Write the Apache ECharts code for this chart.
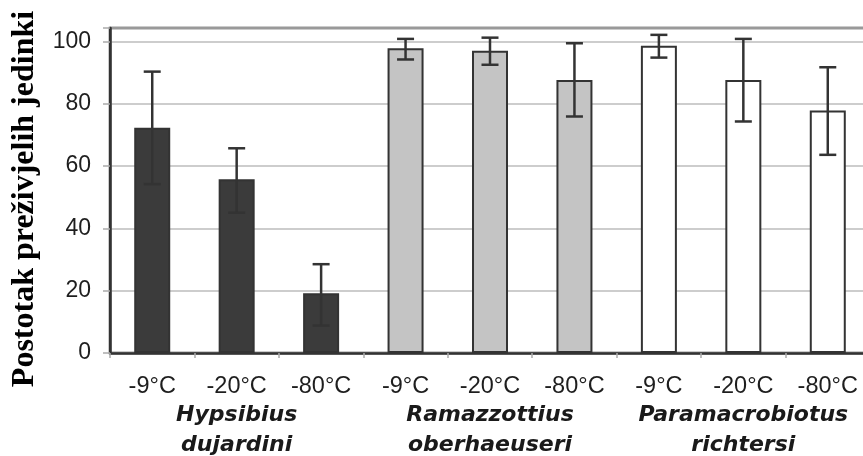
<!DOCTYPE html>
<html>
<head>
<meta charset="utf-8">
<script src="https://cdn.jsdelivr.net/npm/echarts@6/dist/echarts.min.js"></script>
<style>
html,body{margin:0;padding:0;background:#fff;}
#c{width:863px;height:456px;}
</style>
</head>
<body>
<div id="c"></div>
<script>
// ---- data ----
var categories = ['-9°C', '-20°C', '-80°C', '-9°C', '-20°C', '-80°C', '-9°C', '-20°C', '-80°C'];
var species = ['Hypsibius\ndujardini', 'Ramazzottius\noberhaeuseri', 'Paramacrobiotus\nrichtersi'];
var means = [72.3, 55.8, 19.2, 97.8, 97.0, 87.6, 98.6, 87.6, 77.8];
var errLow = [54.2, 45.0, 8.8, 94.2, 92.5, 75.9, 94.8, 74.3, 63.6];
var errHigh = [90.3, 65.7, 28.5, 100.8, 101.2, 99.4, 102.1, 100.8, 91.7];
var yTicks = [0, 20, 40, 60, 80, 100];
var yTitle = 'Postotak preživjelih jedinki';

var groupColors = ['#3b3b3b', '#c4c4c4', '#ffffff'];

var barData = means.map(function (v, i) {
  return { value: v, itemStyle: { color: groupColors[Math.floor(i / 3)] } };
});
var errData = means.map(function (v, i) { return [i, errLow[i], errHigh[i]]; });

var chart = echarts.init(document.getElementById('c'), null, { renderer: 'canvas' });
chart.setOption({
  animation: false,
  backgroundColor: '#ffffff',
  grid: { left: 110, top: 28, width: 760, bottom: 103, outerBoundsMode: 'none', containLabel: false, show: true, borderColor: '#333', borderWidth: 2.5, backgroundColor: 'transparent' },
  graphic: [{
    type: 'text',
    x: 25, y: 199,
    rotation: Math.PI / 2,
    style: {
      text: yTitle,
      font: 'bold 32px "Liberation Serif", "Times New Roman", serif',
      fill: '#000',
      textAlign: 'center',
      textVerticalAlign: 'middle'
    }
  }],
  xAxis: [{
    type: 'category',
    data: categories,
    position: 'bottom',
    axisLine: { show: true, lineStyle: { color: '#333', width: 2.5 } },
    axisTick: { show: true, length: 5, lineStyle: { color: '#aaa', width: 1.5 } },
    axisLabel: { interval: 0, margin: 22, color: '#1e1e1e', fontSize: 23.5, fontFamily: 'Liberation Sans, Arial, sans-serif' },
    splitLine: { show: false }
  }, {
    type: 'category',
    data: species,
    position: 'bottom',
    axisLine: { show: false },
    axisTick: { show: false },
    axisLabel: { interval: 0, margin: 47, color: '#1a1a1a', fontSize: 22, fontWeight: 'bold', fontStyle: 'italic', lineHeight: 30, fontFamily: '"DejaVu Sans", sans-serif' },
    splitLine: { show: false }
  }],
  yAxis: {
    type: 'value',
    min: 0, max: 104.3, interval: 20,
    axisLine: { show: true, lineStyle: { color: '#333', width: 2.5 } },
    axisTick: { show: true, length: 7, lineStyle: { color: '#aaa', width: 1.5 } },
    axisLabel: {
      margin: 19, color: '#1e1e1e', fontSize: 23, fontFamily: 'Liberation Sans, Arial, sans-serif',
      formatter: function (v) { return yTicks.indexOf(v) >= 0 ? String(v) : ''; }
    },
    splitLine: { show: true, lineStyle: { color: '#bdbdbd', width: 1.5 } }
  },
  series: [{
    type: 'bar',
    xAxisIndex: 0,
    data: barData,
    barWidth: 36,
    itemStyle: { borderColor: '#333', borderWidth: 2 }
  }, {
    type: 'custom',
    xAxisIndex: 0,
    data: errData,
    z: 5,
    renderItem: function (params, api) {
      var x = api.value(0);
      var lo = api.coord([x, api.value(1)]);
      var hi = api.coord([x, api.value(2)]);
      var hw = 8.5;
      var st = { stroke: '#333', lineWidth: 2.5 };
      return {
        type: 'group',
        children: [
          { type: 'line', shape: { x1: lo[0], y1: lo[1], x2: hi[0], y2: hi[1] }, style: st },
          { type: 'line', shape: { x1: hi[0] - hw, y1: hi[1], x2: hi[0] + hw, y2: hi[1] }, style: st },
          { type: 'line', shape: { x1: lo[0] - hw, y1: lo[1], x2: lo[0] + hw, y2: lo[1] }, style: st }
        ]
      };
    }
  }]
});
</script>
</body>
</html>
